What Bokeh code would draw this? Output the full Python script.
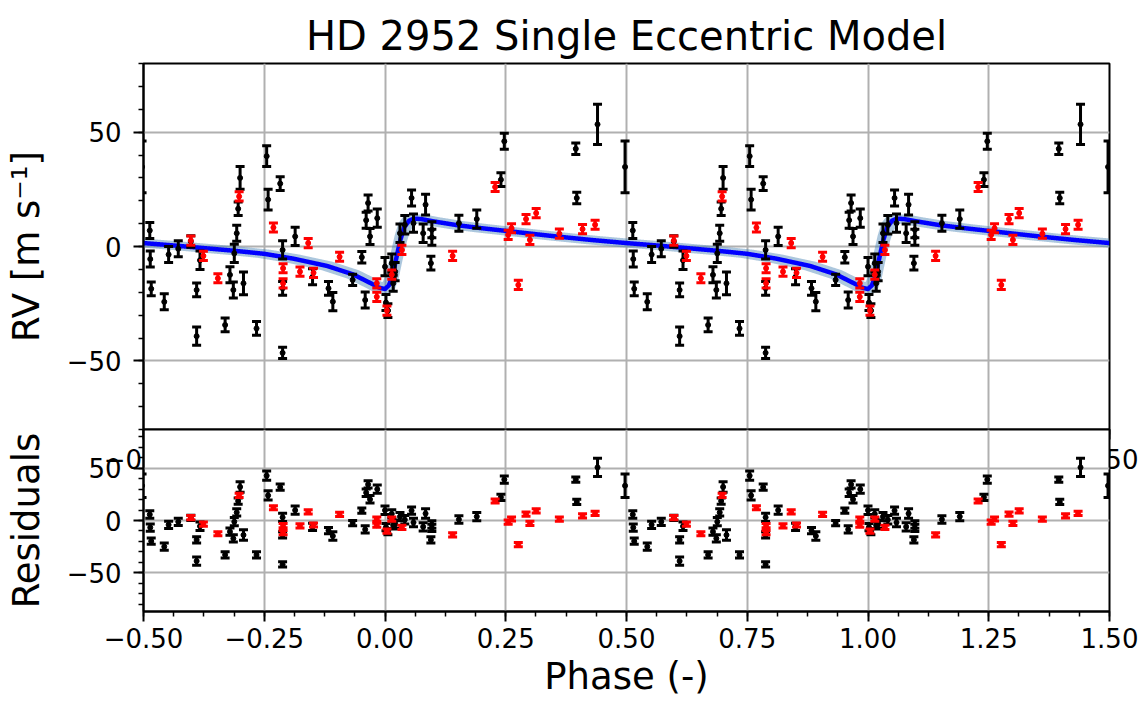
import numpy as np
from bokeh.plotting import figure
from bokeh.layouts import column
from bokeh.models import SingleIntervalTicker, CustomJSTickFormatter, Range1d
from bokeh.embed import file_html
from bokeh.resources import INLINE

FONT = "DejaVu Sans"

# ---------------- data ----------------
black_phase = [-0.487, -0.486, -0.484, -0.457, -0.448, -0.428, -0.402, -0.383, -0.390, -0.390,
               -0.331, -0.321, -0.314, -0.312, -0.307, -0.304, -0.300, -0.293, -0.266, -0.245,
               -0.242, -0.217, -0.212, -0.212, -0.212, -0.186, -0.150, -0.117, -0.108, -0.067,
               -0.048, -0.041, -0.039, -0.035, -0.031, -0.016, 0.000, 0.002, 0.006, 0.014,
               0.017, 0.021, 0.031, 0.041, 0.055, 0.059, 0.079, 0.084, 0.097, 0.097,
               0.095, 0.153, 0.190, 0.240, 0.247, 0.395, 0.397, 0.440, 0.497]
black_rv = [7.0, -5.5, -18.5, -24.2, -3.5, -1.0, 2.2, -6.0, -19.0, -39.2,
            -34.3, -12.4, -19.0, -3.0, 5.8, 16.5, 30.0, -16.1, -35.8, 39.5,
            20.5, 27.5, -1.5, -18.3, -46.5, 4.4, -13.2, -18.3, -24.1, -14.6,
            -4.7, -23.4, 11.5, 19.0, 4.4, 12.4, -8.8, -24.5, -28.0, -7.3,
            -16.1, -11.0, 5.8, 9.5, 21.2, 10.2, 5.8, 18.3, 7.3, 4.0,
            -7.3, 10.2, 12.0, 29.2, 46.0, 42.7, 21.2, 53.4, 34.8]
black_err = [3.5, 3.5, 3.0, 3.5, 3.5, 3.5, 2.5, 4.0, 3.0, 4.0,
             3.0, 3.5, 3.5, 4.0, 3.5, 3.0, 5.0, 5.0, 3.0, 4.5,
             4.5, 3.0, 4.0, 3.0, 2.5, 4.0, 3.5, 3.0, 4.0, 2.5,
             2.5, 3.5, 3.5, 3.5, 3.5, 4.0, 4.0, 3.5, 3.0, 4.0,
             3.5, 4.0, 4.0, 4.0, 3.5, 4.0, 4.0, 4.5, 3.5, 3.5,
             3.0, 3.5, 4.0, 3.0, 3.5, 2.5, 2.5, 8.8, 11.3]

red_phase = [-0.402, -0.376, -0.346, -0.302, -0.231, -0.211, -0.211, -0.176, -0.159, -0.148,
             -0.094, -0.017, -0.017, 0.004, 0.014, 0.035, 0.140, 0.228, 0.255, 0.262,
             0.276, 0.292, 0.300, 0.313, 0.361, 0.409, 0.435]
red_rv = [2.6, -4.1, -13.9, 21.9, 8.3, -9.5, -16.1, -11.0, 1.5, -11.5,
          -4.5, -16.1, -22.0, -28.0, -12.3, -1.5, -4.1, 26.0, 5.1, 8.0,
          -16.8, 12.0, 2.9, 14.6, 5.6, 7.6, 9.5]
red_err = [2.0] * len(red_phase)

# fitted single eccentric model (one period)
model_phase = [-0.5, -0.44, -0.375, -0.31, -0.25, -0.19, -0.12, -0.066, -0.03, -0.012,
               0.0, 0.008, 0.016, 0.024, 0.032, 0.040, 0.050, 0.060, 0.075, 0.10,
               0.15, 0.20, 0.26, 0.35, 0.43, 0.5]
model_rv = [1.5, 0.5, -0.7, -1.9, -3.2, -5.3, -8.5, -12.2, -16.0, -18.0,
            -18.6, -17.0, -12.5, -4.5, 3.0, 8.5, 11.3, 12.2, 12.0, 11.0,
            9.3, 8.0, 6.6, 4.5, 2.8, 1.5]

x_ticks_step = 0.25
y_ticks_step = 50

OVERLAP = 60  # the lower panel is pulled up over the upper panel's x tick labels


def model_at(x):
    xp = ((np.asarray(x, dtype=float) + 0.5) % 1.0) - 0.5
    return np.interp(xp, model_phase, model_rv)


def style(p, ylabel):
    p.outline_line_color = "black"
    p.outline_line_width = 2
    p.background_fill_color = "white"
    p.xgrid.grid_line_color = "#b0b0b0"
    p.ygrid.grid_line_color = "#b0b0b0"
    p.xgrid.grid_line_width = 2
    p.ygrid.grid_line_width = 2
    p.xaxis.ticker = SingleIntervalTicker(interval=x_ticks_step, num_minor_ticks=4)
    p.yaxis.ticker = SingleIntervalTicker(interval=y_ticks_step, num_minor_ticks=5)
    p.xaxis.formatter = CustomJSTickFormatter(
        code="return (tick < -1e-9 ? '\u2212' : '') + Math.abs(tick).toFixed(2);")
    p.yaxis.formatter = CustomJSTickFormatter(
        code="return (tick < -1e-9 ? '\u2212' : '') + Math.abs(Math.round(tick)).toFixed(0);")
    for ax in (p.xaxis[0], p.yaxis[0]):
        ax.axis_line_width = 2
        ax.axis_line_color = "black"
        ax.major_tick_line_width = 2
        ax.minor_tick_line_width = 1.5
        ax.major_tick_out = 10
        ax.major_tick_in = 0
        ax.minor_tick_out = 5
        ax.minor_tick_in = 0
        ax.major_label_text_font = FONT
        ax.major_label_text_font_size = "26px"
        ax.major_label_text_color = "black"
        ax.axis_label_text_font = FONT
        ax.axis_label_text_font_size = "37px"
        ax.axis_label_text_font_style = "normal"
        ax.axis_label_text_color = "black"
    p.xaxis.major_label_standoff = 6
    p.yaxis.major_label_standoff = 12
    p.yaxis.axis_label = ylabel
    p.yaxis.axis_label_standoff = 16


def draw_points(p, ph, vals, errs, color):
    ph = np.asarray(ph, dtype=float)
    vals = np.asarray(vals, dtype=float)
    errs = np.asarray(errs, dtype=float)
    for shift in (-1.0, 0.0, 1.0):
        x = ph + shift
        p.segment(x, vals - errs, x, vals + errs, line_color=color, line_width=3)
        p.scatter(x, vals + errs, marker="dash", size=9, line_color=color, line_width=3)
        p.scatter(x, vals - errs, marker="dash", size=9, line_color=color, line_width=3)
        p.scatter(x, vals, marker="circle", size=5, fill_color=color, line_color=color)


# ---------------- top panel ----------------
p1 = figure(width=1146, height=429 + OVERLAP, x_range=Range1d(-0.5, 1.5), y_range=Range1d(-80, 80),
            output_backend="svg", toolbar_location=None,
            min_border_left=143, min_border_right=37, min_border_top=63,
            min_border_bottom=OVERLAP,
            title="HD 2952 Single Eccentric Model")
style(p1, "RV [m s\u207b\u00b9]")
p1.xaxis.major_label_standoff = 9
p1.border_fill_color = "white"
p1.title.text_font = FONT
p1.title.text_font_size = "40px"
p1.title.text_font_style = "normal"
p1.title.align = "center"
p1.title.text_color = "black"

xs = np.linspace(-0.5, 1.5, 4001)
shifts = np.linspace(-0.012, 0.012, 17)
stack = np.array([model_at(xs + s) for s in shifts])
p1.varea(x=xs, y1=stack.min(axis=0) - 1.8, y2=stack.max(axis=0) + 1.8,
         fill_color="#4682b4", fill_alpha=0.45)
p1.line(xs, model_at(xs), line_color="#0000ff", line_width=4.5)

draw_points(p1, black_phase, black_rv, black_err, "black")
draw_points(p1, red_phase, red_rv, red_err, "#ff0000")

# ---------------- residual panel ----------------
p2 = figure(width=1146, height=280, x_range=p1.x_range, y_range=Range1d(-87, 87),
            output_backend="svg", toolbar_location=None,
            min_border_left=143, min_border_right=37, min_border_top=0, min_border_bottom=98,
            margin=(-OVERLAP, 0, 0, 0))
style(p2, "Residuals")
p2.border_fill_alpha = 0.0
p2.background_fill_alpha = 1.0
p2.xaxis.axis_label = "Phase (-)"
p2.xaxis.axis_label_standoff = 4

black_res = np.asarray(black_rv) - model_at(black_phase)
red_res = np.asarray(red_rv) - model_at(red_phase)
draw_points(p2, black_phase, black_res, black_err, "black")
draw_points(p2, red_phase, red_res, red_err, "#ff0000")

layout = column(p1, p2, spacing=0)
open("out.html", "w").write(file_html(layout, INLINE))
